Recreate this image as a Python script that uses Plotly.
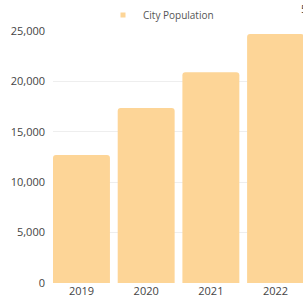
import plotly.graph_objects as go

years = ["2019", "2020", "2021", "2022"]
population = [12700, 17350, 20900, 24700]
series_name = "City Population"
y_ticks = [0, 5000, 10000, 15000, 20000, 25000]
y_tick_labels = ["0", "5,000", "10,000", "15,000", "20,000", "25,000"]

BAR_COLOR = "#FDD597"
FONT = "Open Sans"

fig = go.Figure()
fig.add_trace(go.Bar(
    x=years, y=population, name=series_name,
    marker=dict(color=BAR_COLOR, line=dict(width=0)),
    showlegend=False,
))
# legend entry with a small square swatch
fig.add_trace(go.Scatter(
    x=[None], y=[None], mode="markers", name=series_name,
    marker=dict(symbol="square", size=5, color=BAR_COLOR),
    showlegend=True,
))

fig.update_layout(
    width=303, height=302,
    margin=dict(l=53, r=0, t=31, b=19, autoexpand=False),
    paper_bgcolor="white", plot_bgcolor="white",
    bargap=0.12,
    barcornerradius=3,
    font=dict(family=FONT, size=11, color="#555555"),
    legend=dict(
        orientation="h", x=0.20, xanchor="left", y=1.063, yanchor="middle",
        font=dict(family=FONT, size=10, color="#555555"),
        itemwidth=30, bgcolor="rgba(0,0,0,0)",
    ),
    xaxis=dict(
        type="category", range=[-0.44, 3.424], automargin=False,
        showgrid=False, showline=False, zeroline=False, ticks="",
        tickfont=dict(family=FONT, size=11, color="#444444"),
    ),
    yaxis=dict(
        range=[0, 25000], tickvals=y_ticks, ticktext=y_tick_labels, automargin=False,
        showgrid=True, gridcolor="#EEEEEE", gridwidth=1,
        zeroline=False, showline=False, ticks="",
        ticklabelstandoff=7,
        tickfont=dict(family=FONT, size=11, color="#444444"),
    ),
    showlegend=True,
)

fig.add_annotation(
    text="5", xref="paper", yref="paper", x=0.985, y=1.09,
    xanchor="left", yanchor="middle", showarrow=False,
    font=dict(family=FONT, size=11, color="#444444"),
)

fig.write_html(
    "out.html",
    config={"displayModeBar": False},
    post_script="document.body.style.margin='0';document.body.style.overflow='hidden';",
)
